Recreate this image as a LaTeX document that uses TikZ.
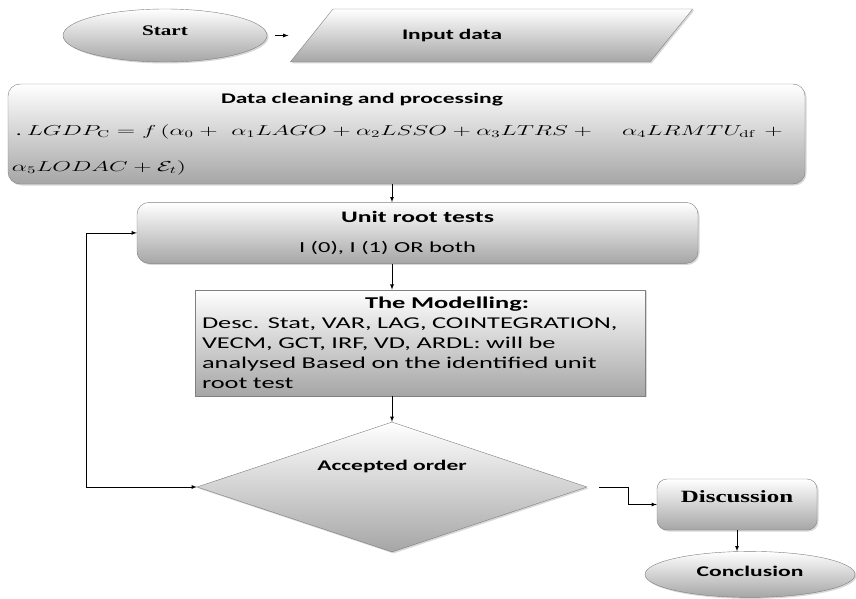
\documentclass[tikz,border=0pt]{standalone}
\usepackage[no-math]{fontspec}
\usepackage{graphicx}
\setmainfont{Carlito}[FakeStretch=1.6]
\newfontfamily\serifbold{Liberation Serif}[FakeStretch=1.45]
\usetikzlibrary{shapes.geometric, arrows, positioning, shadows}
\newcommand{\fsize}[2]{\fontsize{#1pt}{#2pt}\selectfont}
\newcommand{\wide}[1]{\scalebox{1.68}[1]{#1}}
\tikzset{
    shade box/.style={draw=gray, top color=white, bottom color=black!35, drop shadow={shadow xshift=1.5pt, shadow yshift=-1.5pt, fill=black!30}},
    terminal/.style={ellipse, shade box, inner sep=0pt},
    io/.style={trapezium, trapezium left angle=27.5, trapezium right angle=152.5, trapezium stretches=true, shade box, inner sep=0pt},
    process/.style={rectangle, rounded corners=12pt, shade box, inner sep=4pt},
    block/.style={rectangle, shade box, inner xsep=7pt, inner ysep=2pt},
    decision/.style={diamond, aspect=3, shade box, inner sep=0pt},
    arrow/.style={thick,->,>=latex}
}
\begin{document}
\begin{tikzpicture}[x=1pt, y=-1pt]

    \fill[white] (0,0) rectangle (856,599);
    \useasboundingbox (0,0) rectangle (856,599);

    % Nodes
    \node (start) [terminal, minimum width=204pt, minimum height=53pt, text depth=9pt, font=\serifbold\bfseries\fsize{14.6}{17}] at (165,35.5) {Start};
    \node (input) [io, minimum width=403pt, minimum height=53pt, text width=179pt, align=left, font=\bfseries\fsize{14.6}{17}] at (491.5,35.5) {Input data};
    \node (clean) [process, minimum width=797pt, minimum height=100pt, text width=789pt, align=left, font=\fsize{14.7}{18}] at (406.5,134) {%
        \hspace*{209pt}\textbf{Data cleaning and processing}\\[14pt]
        \hspace*{4pt}.\ \wide{$LGDP_{\mathrm{C}} = f\,(\alpha_0 +\ \alpha_1 LAGO + \alpha_2 LSSO + \alpha_3 LTRS +\quad \alpha_4 LRMTU_{\mathrm{df}}\ +$}\\[18pt]
        \wide{$\alpha_5 LODAC + \mathcal{E}_t)$}};
    \node (unit) [process, below=18pt of clean, xshift=11pt, minimum width=561pt, minimum height=61pt, align=center] {%
        {\bfseries\fsize{16}{19}Unit root tests}\\[18pt]
        {\fsize{15.3}{18}I (0), I (1) OR both\hspace*{60pt}}};
    \node (model) [block, below=26pt of unit, xshift=2.5pt, minimum width=450pt, minimum height=106pt, text width=436pt, align=left, font=\fsize{16.5}{20}] {%
        \hspace*{163pt}{\bfseries The Modelling:}\\
        Desc. Stat, VAR, LAG, COINTEGRATION,\\
        VECM, GCT, IRF, VD, ARDL: will be\\
        analysed Based on the identified unit\\
        root test};
    \node (accept) [decision, minimum width=390pt, minimum height=130pt, text depth=44pt, font=\bfseries\fsize{14.7}{17}] at (392,487) {Accepted order};
    \node (disc) [process, rounded corners=10pt, minimum width=160pt, minimum height=51pt, text depth=16pt, font=\serifbold\bfseries\fsize{17.2}{20}] at (737,504.5) {Discussion};
    \node (concl) [terminal, below=21pt of disc, xshift=13pt, minimum width=210pt, minimum height=46pt, text depth=6pt, font=\bfseries\fsize{14.75}{17}] {Conclusion};

    % Arrows
    \draw [arrow, shorten <=8pt, shorten >=23pt] (start.east) -- (input.west);
    \draw [arrow] (clean.south -| accept.north) -- (unit.north -| accept.north);
    \draw [arrow] (unit.south -| accept.north) -- (model.north -| accept.north);
    \draw [arrow] (model.south -| accept.north) -- (accept.north);
    \draw [arrow, <->] (unit.west) -- ++(-50,0) |- (accept.west);
    \draw [arrow, shorten <=12pt] (accept.east) -- ++(41,0) |- (disc.west);
    \draw [arrow] (disc.south) -- (disc.south |- concl.north);

\end{tikzpicture}
\end{document}
